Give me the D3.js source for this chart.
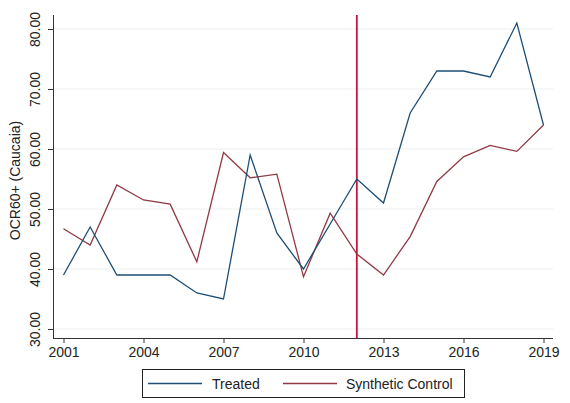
<!DOCTYPE html>
<html>
<head>
<meta charset="utf-8">
<script src="https://cdn.jsdelivr.net/npm/d3@7"></script>
<style>
  html, body { margin: 0; padding: 0; background: #fff; }
  svg { display: block; font-family: Arial, "Liberation Sans", sans-serif; }
</style>
</head>
<body>
<svg id="chart" width="570" height="403"></svg>
<script>
// OCR60+ for Caucaia versus its synthetic control, 2001–2019
const years = d3.range(2001, 2020);
const treated = [39, 47, 39, 39, 39, 36, 35, 59, 46, 40, 47.5, 55, 51, 66, 73, 73, 72, 81, 64];
const synthetic = [46.7, 44, 54, 51.5, 50.8, 41.2, 59.4, 55.2, 55.8, 38.7, 49.3, 42.5, 39, 45.4, 54.6, 58.7, 60.6, 59.6, 64];
const yTicks = [30, 40, 50, 60, 70, 80];
const xTicks = [2001, 2004, 2007, 2010, 2013, 2016, 2019];
const interventionYear = 2012;
const seriesNames = ["Treated", "Synthetic Control"];

const svg = d3.select("#chart");
const plotL = 53, plotR = 553, plotT = 15, plotB = 338;
const fontSize = 14;

const x = d3.scaleLinear().domain([2001, 2019]).range([63.5, 543.5]);
const y = d3.scaleLinear().domain([30, 80]).range([329, 29]);

// horizontal gridlines
svg.append("g").selectAll("line").data(yTicks).join("line")
  .attr("x1", plotL).attr("x2", plotR)
  .attr("y1", d => y(d)).attr("y2", d => y(d))
  .attr("stroke", "#eceff0").attr("stroke-width", 1);

// y axis
const yAxis = svg.append("g").attr("transform", `translate(${plotL},0)`)
  .call(d3.axisLeft(y).tickValues(yTicks).tickSize(5).tickPadding(4).tickFormat(d3.format(".2f")));
yAxis.select(".domain").attr("d", `M0.5,${plotT}V${plotB}`).attr("stroke", "#333");
yAxis.selectAll(".tick line").attr("stroke", "#333");
yAxis.selectAll(".tick text")
  .attr("font-size", fontSize).attr("fill", "#222")
  .attr("text-anchor", "middle")
  .attr("transform", "rotate(-90)")
  .attr("x", 0).attr("y", -17).attr("dy", "0.32em");

// x axis
const xAxis = svg.append("g").attr("transform", `translate(0,${plotB})`)
  .call(d3.axisBottom(x).tickValues(xTicks).tickSize(5).tickPadding(4).tickFormat(d3.format("d")));
xAxis.select(".domain").attr("d", `M${plotL},0.5H${plotR}`).attr("stroke", "#333");
xAxis.selectAll(".tick line").attr("stroke", "#333");
xAxis.selectAll(".tick text").attr("font-size", fontSize).attr("fill", "#222");

// y axis title
svg.append("text")
  .attr("transform", `translate(20,${(plotT + plotB) / 2 + 4}) rotate(-90)`)
  .attr("text-anchor", "middle")
  .attr("font-size", fontSize).attr("fill", "#222")
  .text("OCR60+ (Caucaia)");

// intervention line
svg.append("line")
  .attr("x1", x(interventionYear)).attr("x2", x(interventionYear))
  .attr("y1", plotT).attr("y2", plotB)
  .attr("stroke", "#c8143c").attr("stroke-width", 1.8);

const line = d3.line().x((d, i) => x(years[i])).y(d => y(d));
const colors = ["#1f4e74", "#8f3a45"];

svg.append("path").datum(synthetic)
  .attr("d", line).attr("fill", "none")
  .attr("stroke", colors[1]).attr("stroke-width", 1.3);
svg.append("path").datum(treated)
  .attr("d", line).attr("fill", "none")
  .attr("stroke", colors[0]).attr("stroke-width", 1.3);

// legend
const legend = svg.append("g");
legend.append("rect")
  .attr("x", 142.5).attr("y", 369.5).attr("width", 322).attr("height", 28)
  .attr("fill", "#fff").attr("stroke", "#222").attr("stroke-width", 1);
const items = [
  { x0: 148, x1: 202, tx: 212, name: seriesNames[0], color: colors[0] },
  { x0: 283, x1: 337, tx: 346, name: seriesNames[1], color: colors[1] }
];
items.forEach(it => {
  legend.append("line")
    .attr("x1", it.x0).attr("x2", it.x1).attr("y1", 383.5).attr("y2", 383.5)
    .attr("stroke", it.color).attr("stroke-width", 1.3);
  legend.append("text")
    .attr("x", it.tx).attr("y", 384).attr("dy", "0.35em")
    .attr("font-size", fontSize).attr("fill", "#222")
    .text(it.name);
});
</script>
</body>
</html>
